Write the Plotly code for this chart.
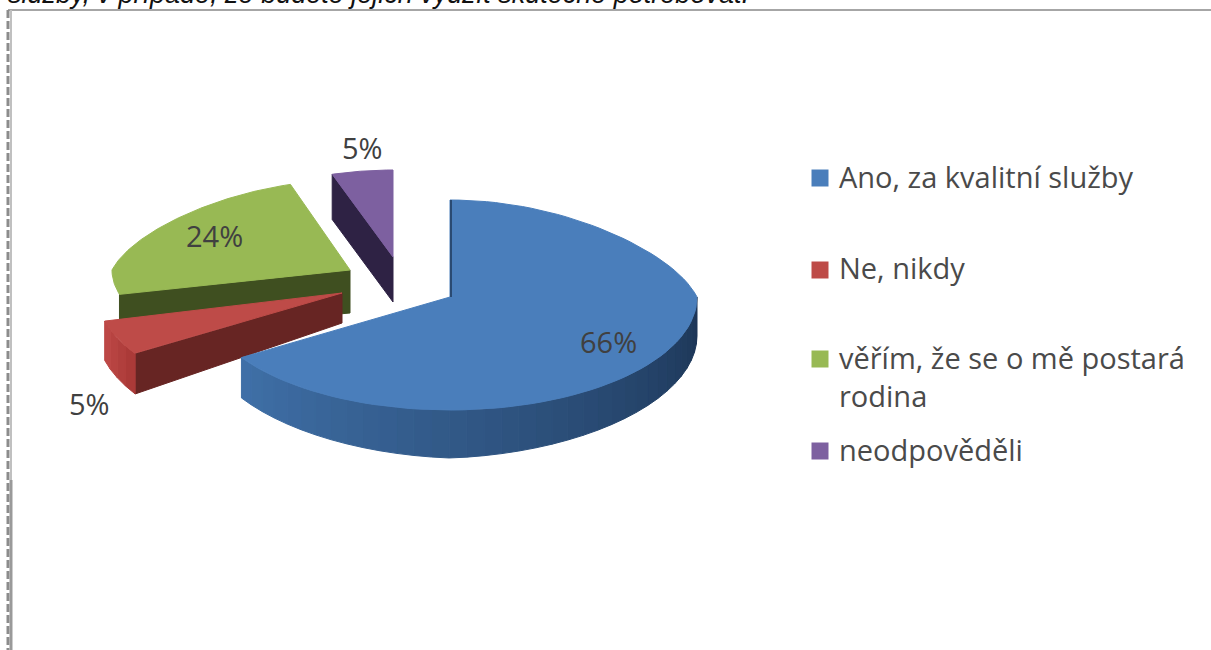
import math
import plotly.graph_objects as go

# ---- data ----
categories = ["Ano, za kvalitní služby", "Ne, nikdy", "věřím, že se o mě postará<br>rodina", "neodpověděli"]
values = [66, 5, 24, 5]

# ---- styling / geometry ----
top_colors = ["#4a7ebb", "#be4b48", "#98b954", "#7d60a0"]
face_colors = ["#2a4a72", "#672523", "#3f4f20", "#2e2244"]
# apex x, apex y, rx, ry back, ry front
geom = [(450, 297, 247, 97, 113), (342, 293, 245, 97, 113),
        (350, 270, 238, 90, 98), (393, 257, 243, 87, 100)]
label_pos = [(608, 341), (89, 403), (214, 235), (362, 147)]
legend_y = [178, 270, 359, 451]
legend_text_y = [176, 267, 376, 449]
K = 0.2

fig = go.Figure()


def pt(g, deg):
    cx, cy, rx, rb, rf = g
    t = math.radians(deg)
    c, s = math.cos(t), math.sin(t)
    x = cx + rx * s * (1 - K * max(c, 0))
    y = cy - (rb if c > 0 else rf) * c
    return x, y


def depth(deg):
    return 48 - 9 * abs(math.sin(math.radians(deg)))


def poly(xs, ys, color, line=None):
    fig.add_trace(go.Scatter(x=xs, y=ys, mode="lines", fill="toself", fillcolor=color,
                             line=dict(color=line or color, width=1), hoverinfo="skip",
                             showlegend=False))


def mix(a, b, f):
    ca = [int(a[i:i + 2], 16) for i in (1, 3, 5)]
    cb = [int(b[i:i + 2], 16) for i in (1, 3, 5)]
    return "rgb(%d,%d,%d)" % tuple(round(p + (q - p) * f) for p, q in zip(ca, cb))


def arc(g, a0, a1, n=90):
    return [pt(g, a0 + (a1 - a0) * i / n) for i in range(n + 1)]


def top(i, a0, a1):
    g = geom[i]
    p = arc(g, a0, a1)
    poly([g[0]] + [q[0] for q in p] + [g[0]], [g[1]] + [q[1] for q in p] + [g[1]], top_colors[i])


def cut(i, deg, apex_depth):
    g = geom[i]
    x, y = pt(g, deg)
    d = depth(deg)
    poly([g[0], x, x, g[0], g[0]], [g[1], y, y + d, g[1] + apex_depth, g[1]], face_colors[i])


def rim(i, a0, a1, c0, c1, step=4):
    g = geom[i]
    n = max(1, int(abs(a1 - a0) / step))
    for k in range(n):
        u = a0 + (a1 - a0) * k / n
        v = a0 + (a1 - a0) * (k + 1) / n
        (x0, y0), (x1, y1) = pt(g, u), pt(g, v)
        poly([x0, x1, x1, x0, x0], [y0, y1, y1 + depth(v), y0 + depth(u), y0],
             mix(c0, c1, (k + .5) / n))


# cumulative angles from the values
total = sum(values)
angles = [0]
for v in values:
    angles.append(angles[-1] + 360 * v / total)

# green
cut(2, angles[2], 43)
top(2, angles[2], angles[3])
# purple
cut(3, angles[3], 45)
top(3, angles[3], angles[4])
# red
cut(1, angles[1], 30)
rim(1, angles[1], angles[2], "#a83836", "#c04a48")
top(1, angles[1], angles[2])
# blue
rim(0, 90, angles[1], "#1c3454", "#3f70a8")
top(0, angles[0], angles[1])
fig.add_trace(go.Scatter(x=[geom[0][0] + 1] * 2, y=[geom[0][1] - geom[0][3], geom[0][1]], mode="lines",
                         line=dict(color="#2a4a72", width=2), hoverinfo="skip", showlegend=False))

# legend squares
for i, c in enumerate(categories):
    fig.add_trace(go.Scatter(x=[820], y=[legend_y[i]], mode="markers", hoverinfo="skip", showlegend=False,
                             marker=dict(symbol="square", size=17, color=top_colors[i])))
    fig.add_annotation(x=837, y=legend_text_y[i], text=c, showarrow=False, xanchor="left", yanchor="middle",
                       align="left", font=dict(family="Open Sans", size=29, color="#4a4a4a"))

# data labels
for v, (lx, ly) in zip(values, label_pos):
    fig.add_annotation(x=lx, y=ly, text=f"{v}%", showarrow=False,
                       font=dict(family="Open Sans", size=29, color="#404040"))

# clipped heading line
fig.add_annotation(x=6, y=11, text="služby, v případě, že budete jejich využít skutečně potřebovat.",
                   showarrow=False, xanchor="left", yanchor="bottom",
                   font=dict(family="Liberation Sans", size=27, color="#111111", style="italic"))

# frame
fig.add_shape(type="line", x0=8, x1=1211, y0=10, y1=10, line=dict(color="#a6a6a6", width=2))
fig.add_shape(type="line", x0=8, x1=8, y0=10, y1=650, line=dict(color="#8c8c8c", width=3, dash="8px,3px"))
fig.add_shape(type="line", x0=11, x1=11, y0=10, y1=480, line=dict(color="#c0c0c0", width=2))
fig.add_shape(type="line", x0=11, x1=11, y0=480, y1=650, line=dict(color="#9a9a9a", width=3))

fig.update_layout(width=1211, height=650, margin=dict(l=0, r=0, t=0, b=0),
                  paper_bgcolor="white", plot_bgcolor="white",
                  xaxis=dict(range=[0, 1211], visible=False, fixedrange=True),
                  yaxis=dict(range=[650, 0], visible=False, fixedrange=True))

fig.write_html("out.html", config={"displayModeBar": False},
               post_script="document.body.style.margin='0';document.body.style.overflow='hidden';")
